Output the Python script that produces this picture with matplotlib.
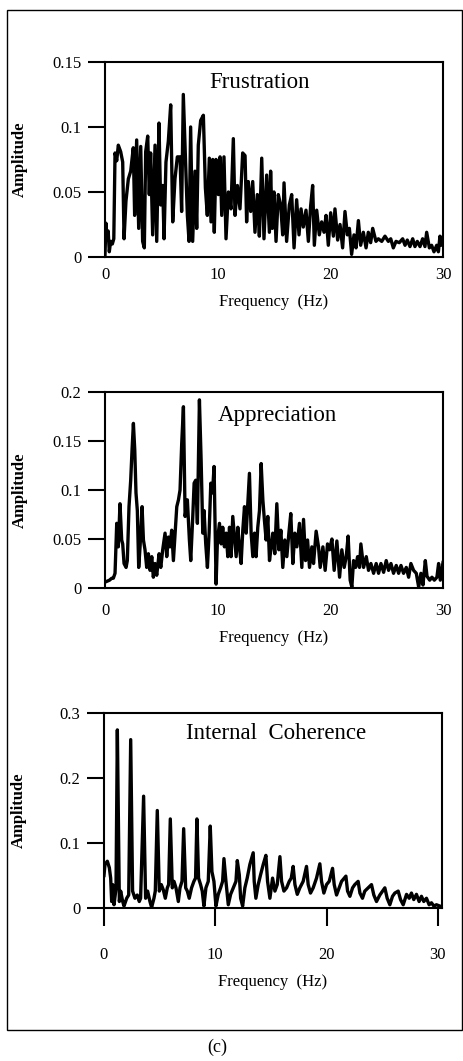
import numpy as np
import matplotlib.pyplot as plt
from matplotlib.patches import Rectangle

plt.rcParams['font.family'] = ['Liberation Serif', 'DejaVu Serif']

# ---- values ----
freq_frus = [0.00, 0.08, 0.18, 0.28, 0.38, 0.50, 0.65, 0.78, 0.89, 1.04,
             1.18, 1.39, 1.57, 1.69, 1.86, 2.07, 2.28, 2.51, 2.63, 2.81,
             2.99, 3.17, 3.34, 3.49, 3.61, 3.79, 3.93, 4.05, 4.23, 4.44,
             4.59, 4.79, 4.94, 5.12, 5.24, 5.41, 5.62, 5.83, 6.01, 6.21,
             6.42, 6.66, 6.80, 6.95, 7.13, 7.31, 7.46, 7.60, 7.78, 7.99,
             8.14, 8.28, 8.49, 8.73, 8.91, 9.08, 9.26, 9.41, 9.56, 9.70,
             9.85, 10.06, 10.21, 10.36, 10.56, 10.74, 10.95, 11.18, 11.39, 11.54,
             11.75, 11.98, 12.22, 12.43, 12.57, 12.72, 12.93, 13.11, 13.31, 13.52,
             13.70, 13.91, 14.11, 14.35, 14.59, 14.70, 14.85, 15.00, 15.18, 15.38,
             15.59, 15.77, 15.89, 16.12, 16.36, 16.57, 16.78, 17.01, 17.22, 17.40,
             17.60, 17.84, 18.05, 18.25, 18.43, 18.58, 18.79, 19.02, 19.23, 19.44,
             19.62, 19.82, 20.03, 20.27, 20.41, 20.65, 20.86, 21.09, 21.30, 21.51,
             21.69, 21.89, 22.10, 22.28, 22.49, 22.69, 22.93, 23.17, 23.37, 23.58,
             23.76, 24.05, 24.26, 24.56, 24.85, 25.15, 25.36, 25.59, 25.83, 26.12,
             26.42, 26.63, 26.83, 27.07, 27.31, 27.51, 27.72, 27.96, 28.19, 28.40,
             28.55, 28.79, 28.99, 29.20, 29.44, 29.59, 29.73, 29.85, 30.00]
amp_frus = [0.002, 0.026, 0.015, 0.020, 0.004, 0.012, 0.010, 0.014, 0.080, 0.074,
            0.086, 0.081, 0.073, 0.014, 0.043, 0.060, 0.066, 0.084, 0.032, 0.090,
            0.022, 0.085, 0.012, 0.007, 0.081, 0.093, 0.048, 0.080, 0.017, 0.086,
            0.012, 0.103, 0.040, 0.055, 0.014, 0.073, 0.089, 0.117, 0.027, 0.060,
            0.077, 0.077, 0.035, 0.125, 0.078, 0.032, 0.012, 0.100, 0.012, 0.066,
            0.022, 0.086, 0.105, 0.109, 0.053, 0.032, 0.076, 0.027, 0.075, 0.019,
            0.075, 0.048, 0.077, 0.032, 0.077, 0.014, 0.050, 0.037, 0.091, 0.032,
            0.055, 0.037, 0.080, 0.078, 0.027, 0.058, 0.035, 0.058, 0.019, 0.048,
            0.016, 0.076, 0.014, 0.063, 0.019, 0.066, 0.022, 0.050, 0.012, 0.048,
            0.040, 0.017, 0.057, 0.012, 0.040, 0.048, 0.007, 0.044, 0.017, 0.037,
            0.023, 0.036, 0.012, 0.039, 0.055, 0.009, 0.036, 0.017, 0.027, 0.019,
            0.032, 0.009, 0.034, 0.016, 0.037, 0.013, 0.025, 0.007, 0.035, 0.017,
            0.022, 0.002, 0.017, 0.007, 0.028, 0.009, 0.019, 0.007, 0.019, 0.011,
            0.022, 0.012, 0.014, 0.012, 0.016, 0.012, 0.014, 0.007, 0.012, 0.011,
            0.014, 0.009, 0.013, 0.008, 0.014, 0.008, 0.012, 0.008, 0.014, 0.008,
            0.019, 0.007, 0.009, 0.004, 0.009, 0.004, 0.016, 0.009, 0.015]

freq_appr = [0.00, 0.20, 0.40, 0.60, 0.74, 0.89, 1.04, 1.18, 1.33, 1.48,
             1.57, 1.69, 1.87, 1.98, 2.13, 2.28, 2.40, 2.52, 2.64, 2.75,
             2.87, 2.99, 3.11, 3.29, 3.41, 3.55, 3.70, 3.85, 4.00, 4.15,
             4.29, 4.44, 4.59, 4.80, 4.95, 5.12, 5.33, 5.48, 5.63, 5.77,
             5.92, 6.07, 6.22, 6.37, 6.52, 6.66, 6.81, 6.96, 7.11, 7.31,
             7.49, 7.61, 7.79, 7.91, 8.05, 8.20, 8.38, 8.53, 8.68, 8.79,
             8.94, 9.09, 9.24, 9.39, 9.54, 9.68, 9.86, 9.98, 10.16, 10.31,
             10.45, 10.60, 10.75, 10.90, 11.05, 11.19, 11.34, 11.49, 11.64, 11.79,
             11.93, 12.08, 12.23, 12.38, 12.53, 12.67, 12.82, 12.97, 13.12, 13.27,
             13.41, 13.56, 13.71, 13.86, 14.01, 14.15, 14.30, 14.45, 14.60, 14.75,
             14.89, 15.07, 15.25, 15.43, 15.61, 15.78, 15.96, 16.14, 16.32, 16.49,
             16.67, 16.85, 17.03, 17.26, 17.47, 17.62, 17.80, 17.98, 18.15, 18.36,
             18.51, 18.74, 18.95, 19.10, 19.34, 19.54, 19.75, 19.93, 20.14, 20.34,
             20.58, 20.82, 21.02, 21.23, 21.41, 21.58, 21.76, 21.91, 22.06, 22.24,
             22.42, 22.59, 22.71, 22.95, 23.19, 23.39, 23.60, 23.84, 24.07, 24.28,
             24.49, 24.73, 24.96, 25.17, 25.38, 25.61, 25.85, 26.06, 26.27, 26.50,
             26.74, 26.95, 27.15, 27.39, 27.63, 27.84, 28.04, 28.22, 28.43, 28.58,
             28.82, 29.02, 29.23, 29.46, 29.61, 29.76, 30.00]
amp_appr = [0.006, 0.007, 0.008, 0.010, 0.010, 0.015, 0.066, 0.042, 0.086, 0.049,
            0.045, 0.025, 0.021, 0.028, 0.083, 0.110, 0.141, 0.168, 0.141, 0.097,
            0.079, 0.021, 0.042, 0.083, 0.049, 0.039, 0.021, 0.035, 0.018, 0.032,
            0.011, 0.025, 0.013, 0.035, 0.021, 0.039, 0.056, 0.032, 0.052, 0.042,
            0.059, 0.028, 0.056, 0.083, 0.090, 0.100, 0.148, 0.185, 0.073, 0.090,
            0.049, 0.028, 0.073, 0.107, 0.110, 0.066, 0.192, 0.131, 0.056, 0.079,
            0.045, 0.021, 0.056, 0.107, 0.097, 0.124, 0.004, 0.049, 0.066, 0.045,
            0.062, 0.042, 0.056, 0.032, 0.062, 0.032, 0.073, 0.052, 0.032, 0.062,
            0.042, 0.025, 0.059, 0.083, 0.056, 0.086, 0.117, 0.056, 0.032, 0.056,
            0.032, 0.062, 0.079, 0.127, 0.090, 0.069, 0.049, 0.073, 0.028, 0.042,
            0.056, 0.035, 0.086, 0.039, 0.059, 0.021, 0.049, 0.032, 0.056, 0.076,
            0.025, 0.056, 0.042, 0.066, 0.021, 0.070, 0.028, 0.049, 0.021, 0.042,
            0.025, 0.058, 0.042, 0.021, 0.042, 0.018, 0.045, 0.039, 0.050, 0.018,
            0.048, 0.011, 0.039, 0.021, 0.032, 0.053, 0.008, 0.001, 0.028, 0.021,
            0.032, 0.021, 0.045, 0.021, 0.032, 0.018, 0.025, 0.015, 0.025, 0.015,
            0.025, 0.016, 0.028, 0.018, 0.025, 0.015, 0.023, 0.015, 0.023, 0.015,
            0.021, 0.011, 0.025, 0.018, 0.015, 0.001, 0.015, 0.003, 0.028, 0.012,
            0.008, 0.011, 0.008, 0.011, 0.025, 0.008, 0.026]

freq_coh = [0.00, 0.09, 0.30, 0.48, 0.60, 0.69, 0.78, 0.90, 1.08, 1.20,
            1.38, 1.50, 1.68, 1.80, 2.04, 2.22, 2.40, 2.57, 2.78, 2.99,
            3.17, 3.29, 3.56, 3.74, 3.92, 4.13, 4.28, 4.49, 4.61, 4.79,
            4.97, 5.15, 5.33, 5.51, 5.69, 5.81, 5.96, 6.14, 6.29, 6.47,
            6.68, 6.83, 7.01, 7.16, 7.34, 7.49, 7.66, 7.87, 8.08, 8.23,
            8.35, 8.50, 8.68, 8.83, 8.98, 9.16, 9.37, 9.55, 9.70, 9.88,
            10.06, 10.27, 10.48, 10.66, 10.78, 10.96, 11.17, 11.38, 11.62, 11.86,
            11.98, 12.16, 12.28, 12.46, 12.66, 12.87, 13.11, 13.41, 13.50, 13.65,
            13.86, 14.07, 14.31, 14.55, 14.70, 14.91, 15.15, 15.36, 15.57, 15.81,
            15.96, 16.17, 16.41, 16.65, 16.83, 17.00, 17.16, 17.37, 17.60, 17.90,
            18.20, 18.35, 18.56, 18.80, 19.10, 19.40, 19.55, 19.76, 20.00, 20.24,
            20.54, 20.69, 20.90, 21.14, 21.35, 21.74, 21.89, 22.10, 22.34, 22.54,
            22.84, 23.00, 23.23, 23.44, 23.74, 24.04, 24.25, 24.49, 24.79, 25.03,
            25.24, 25.45, 25.69, 25.93, 26.14, 26.44, 26.65, 26.89, 27.19, 27.43,
            27.63, 27.84, 28.08, 28.32, 28.53, 28.74, 28.98, 29.22, 29.43, 29.64,
            29.88, 30.18]
amp_coh = [0.050, 0.067, 0.072, 0.062, 0.046, 0.010, 0.036, 0.005, 0.030, 0.274,
           0.010, 0.026, 0.010, 0.003, 0.015, 0.020, 0.259, 0.026, 0.015, 0.020,
           0.010, 0.015, 0.172, 0.015, 0.026, 0.010, 0.001, 0.015, 0.026, 0.150,
           0.026, 0.036, 0.028, 0.015, 0.031, 0.036, 0.137, 0.031, 0.041, 0.031,
           0.010, 0.031, 0.041, 0.122, 0.031, 0.026, 0.015, 0.031, 0.041, 0.046,
           0.137, 0.046, 0.036, 0.026, 0.003, 0.031, 0.041, 0.126, 0.056, 0.041,
           0.003, 0.021, 0.031, 0.041, 0.076, 0.041, 0.005, 0.021, 0.031, 0.041,
           0.073, 0.051, 0.015, 0.003, 0.031, 0.046, 0.067, 0.085, 0.041, 0.015,
           0.036, 0.051, 0.067, 0.081, 0.041, 0.015, 0.046, 0.026, 0.036, 0.079,
           0.041, 0.026, 0.031, 0.041, 0.046, 0.064, 0.036, 0.021, 0.031, 0.041,
           0.064, 0.036, 0.023, 0.031, 0.046, 0.068, 0.041, 0.023, 0.036, 0.041,
           0.061, 0.036, 0.020, 0.031, 0.041, 0.049, 0.026, 0.018, 0.031, 0.036,
           0.041, 0.023, 0.015, 0.026, 0.031, 0.036, 0.020, 0.010, 0.020, 0.026,
           0.031, 0.015, 0.005, 0.018, 0.023, 0.026, 0.013, 0.005, 0.021, 0.015,
           0.023, 0.013, 0.021, 0.010, 0.018, 0.010, 0.015, 0.005, 0.008, 0.003,
           0.005, 0.003]

titles = ['Frustration', 'Appreciation', 'Internal  Coherence']
yticks_frus = [0, 0.05, 0.1, 0.15]
yticks_appr = [0, 0.05, 0.1, 0.15, 0.2]
yticks_coh = [0, 0.1, 0.2, 0.3]
xticks = [0, 10, 20, 30]

fig = plt.figure(figsize=(4.63, 10.61), dpi=100)

# outer frame + caption
fig.patches.append(Rectangle((0.015, 0.029), 0.983, 0.962, transform=fig.transFigure,
                             fill=False, lw=1.0, ec='black'))
fig.text(0.47, 0.013, '(c)', ha='center', va='center', fontsize=13)

panels = [
    # rect, freq, amp, yticks, xmax, title pos, xtick pad, xtick len, xlabel y
    ([0.2268, 0.7578, 0.730, 0.1838], freq_frus, amp_frus, yticks_frus, 30.0, (0.456, 0.897), 7, 0, -0.231),
    ([0.2268, 0.4458, 0.730, 0.1847], freq_appr, amp_appr, yticks_appr, 30.0, (0.51, 0.878), 11, 0, -0.255),
    ([0.2246, 0.1442, 0.7294, 0.1838], freq_coh, amp_coh, yticks_coh, 30.35, (0.509, 0.897), 15, 13, -0.379),
]

for i, (rect, f, a, yt, xmax, tpos, xpad, xlen, xly) in enumerate(panels):
    ax = fig.add_axes(rect)
    ax.plot(f, a, color='black', lw=2.4)
    ax.set_xlim(0, xmax)
    ax.set_ylim(0, yt[-1])
    ax.set_yticks(yt)
    ax.set_yticklabels([('%g' % v) for v in yt])
    ax.set_xticks(xticks)
    ax.set_xticklabels([str(v) for v in xticks])
    ax.tick_params(axis='y', direction='out', length=12, width=1.5, pad=5, labelsize=12)
    ax.tick_params(axis='x', direction='out', length=xlen, width=1.5, pad=xpad, labelsize=12)
    for s in ax.spines.values():
        s.set_linewidth(1.5)
    ax.text(tpos[0], tpos[1], titles[i], transform=ax.transAxes, ha='center', va='center',
            fontsize=16.5)
    ax.set_ylabel('Amplitude', fontsize=12, fontweight='bold')
    ax.yaxis.set_label_coords(-0.228, 0.5)
    ax.set_xlabel('Frequency  (Hz)', fontsize=12)
    ax.xaxis.label.set_va('center')
    ax.xaxis.set_label_coords(0.5, xly)

fig.savefig('out.png', dpi=100)
